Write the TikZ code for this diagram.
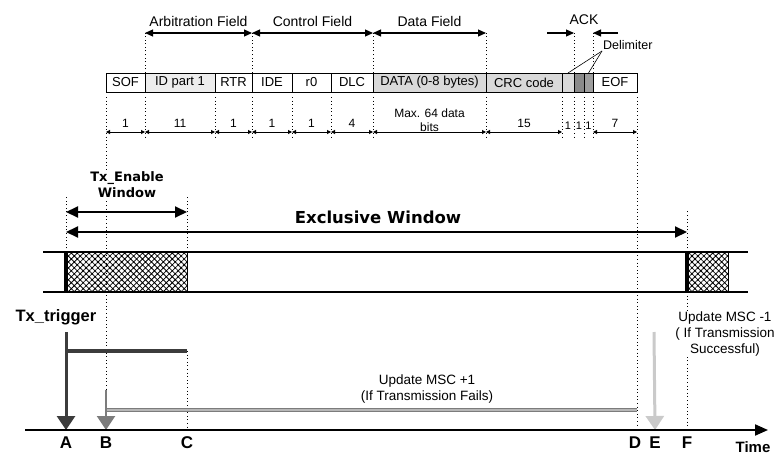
\documentclass[tikz,border=0pt]{standalone}
\usepackage{fontspec}
\setmainfont{Liberation Sans}
\newfontfamily\headfont{DejaVu Sans}
\usetikzlibrary{arrows.meta,positioning,patterns.meta,calc}
\definecolor{fieldgray}{HTML}{D9D9D9}
\definecolor{idgray}{HTML}{EDEDED}
\definecolor{ackdark}{HTML}{8A8A8A}
\definecolor{ackmid}{HTML}{9E9E9E}
\definecolor{trigdark}{HTML}{3C3C3C}
\definecolor{failgray}{HTML}{7C7C7C}
\definecolor{oklight}{HTML}{CACACA}
\tikzset{
  cell/.style={rectangle, draw, line width=0.9pt, inner sep=0pt, outer sep=0pt, minimum height=19pt, font=\fontsize{13}{15}\selectfont},
  fieldlbl/.style={font=\fontsize{14}{16}\selectfont},
  fieldarr/.style={{Triangle[length=8pt,width=7pt]}-{Triangle[length=8pt,width=7pt]}, line width=1.1pt},
  onearr/.style={-{Triangle[length=8pt,width=7pt]}, line width=1.1pt},
  bitarr/.style={{Triangle[length=4pt,width=4pt]}-{Triangle[length=4pt,width=4pt]}, line width=1pt},
  bitlbl/.style={font=\fontsize{12}{14}\selectfont, above=1pt},
  guide/.style={line width=0.9pt, dash pattern=on 1pt off 2.6pt},
  winarr/.style={{Triangle[length=12pt,width=11pt]}-{Triangle[length=12pt,width=11pt]}, line width=2pt},
  winlbl/.style={font=\headfont\bfseries\fontsize{13}{16}\selectfont, align=center},
  bus/.style={line width=1.6pt},
  hatchbox/.style={rectangle, draw, line width=0.8pt, inner sep=0pt, outer sep=0pt, minimum height=40pt, pattern={Hatch[angle=45,distance=4.2pt,line width=0.8pt]}},
  ticklbl/.style={font=\bfseries\fontsize{17}{19}\selectfont},
  msclbl/.style={font=\fontsize{13.5}{16}\selectfont, align=center},
  bighead/.style={-{Triangle[length=14pt,width=18pt]}}
}
\begin{document}
\begin{tikzpicture}[x=1pt, y=-1pt]
\useasboundingbox (0,0) rectangle (779,455);
\coordinate (fldrow) at (0,33);
\coordinate (bitrow) at (0,132);
\coordinate (guideend) at (0,137);

% frame fields
\node[cell, minimum width=39pt, anchor=west] (sof) at (106,82.5) {SOF};
\node[cell, minimum width=70pt, fill=idgray, right=0pt of sof] (idp) {ID part 1};
\node[cell, minimum width=37pt, right=0pt of idp] (rtr) {RTR};
\node[cell, minimum width=40pt, right=0pt of rtr] (ide) {IDE};
\node[cell, minimum width=39pt, right=0pt of ide] (rzero) {r0};
\node[cell, minimum width=42pt, right=0pt of rzero] (dlc) {DLC};
\node[cell, minimum width=113pt, fill=fieldgray, right=0pt of dlc] (data) {DATA (0-8 bytes)};
\node[cell, minimum width=76pt, fill=fieldgray, right=0pt of data] (crc) {CRC code};
\node[cell, minimum width=12pt, fill=fieldgray, right=0pt of crc] (crcdel) {};
\node[cell, minimum width=10pt, fill=ackdark, right=0pt of crcdel] (ackslot) {};
\node[cell, minimum width=9pt, fill=ackmid, right=0pt of ackslot] (ackdel) {};
\node[cell, minimum width=44pt, right=0pt of ackdel] (eof) {EOF};

% field spans
\foreach \c in {idp,ide,data,crc,ackslot,eof}
  \draw[guide] (\c.north west) -- (\c.north west |- fldrow);
\draw[fieldarr] (idp.west |- fldrow) -- node[fieldlbl, above=2pt]{Arbitration Field} (ide.west |- fldrow);
\draw[fieldarr] (ide.west |- fldrow) -- node[fieldlbl, above=2pt]{Control Field} (data.west |- fldrow);
\draw[fieldarr] (data.west |- fldrow) -- node[fieldlbl, above=2pt]{Data Field} (crc.west |- fldrow);
\coordinate (ackin) at (547,33);
\coordinate (ackout) at (618,33);
\draw[onearr] (ackin) -- (ackslot.west |- fldrow);
\draw[onearr] (ackout) -- (eof.west |- fldrow);
\node[fieldlbl] (acklbl) at (584,20) {ACK};
\node[font=\fontsize{12.5}{14}\selectfont, anchor=south west, inner sep=1pt] (delim) at (602,51) {Delimiter};
\draw[line width=0.6pt] (delim.south west) -- (crcdel.north);
\draw[line width=0.6pt] (delim.south west) -- (ackdel.north);

% bit counts
\foreach \c in {idp,rtr,ide,rzero,dlc,data,crc,crcdel,ackslot,ackdel,eof}
  \draw[guide] ([yshift=-5pt]\c.south west) -- (\c.south west |- guideend);
\draw[bitarr] (sof.west |- bitrow) -- node[bitlbl]{1} (sof.east |- bitrow);
\draw[bitarr] (idp.west |- bitrow) -- node[bitlbl]{11} (idp.east |- bitrow);
\draw[bitarr] (rtr.west |- bitrow) -- node[bitlbl]{1} (rtr.east |- bitrow);
\draw[bitarr] (ide.west |- bitrow) -- node[bitlbl]{1} (ide.east |- bitrow);
\draw[bitarr] (rzero.west |- bitrow) -- node[bitlbl]{1} (rzero.east |- bitrow);
\draw[bitarr] (dlc.west |- bitrow) -- node[bitlbl]{4} (dlc.east |- bitrow);
\draw[bitarr] (data.west |- bitrow) -- node[bitlbl, above=-3pt, align=center, font=\fontsize{12}{13.5}\selectfont]{Max. 64 data\\bits} (data.east |- bitrow);
\draw[bitarr] (crc.west |- bitrow) -- node[bitlbl]{15} (crc.east |- bitrow);
\draw[bitarr] (eof.west |- bitrow) -- node[bitlbl]{7} (eof.east |- bitrow);
\foreach \c in {crcdel,ackslot,ackdel}
  \node[bitlbl, font=\fontsize{11}{12}\selectfont, inner sep=1pt] at (\c.south |- bitrow) {1};

% long guides
\coordinate (bstop) at (106,390);
\coordinate (dend) at (637,425);
\draw[guide] ([yshift=-5pt]sof.south west) -- (bstop);
\draw[guide] ([yshift=-5pt]eof.south east) -- (dend);

% windows
\node[hatchbox, minimum width=121pt, anchor=west] (txwin) at (66,272) {};
\node[hatchbox, minimum width=41pt, anchor=west] (nextwin) at (687,272) {};
\draw[guide] (txwin.north west) -- ++(0,-55);
\draw[guide] (txwin.north east) -- ++(0,-55);
\draw[guide] (nextwin.north west) -- ++(0,-42);
\draw[guide] (nextwin.south west) -- ++(0,136);
\draw[bus] (43,252) -- (748,252);
\draw[bus] (43,292) -- (748,292);
\draw[line width=4pt] (txwin.north west) -- (txwin.south west);
\draw[line width=4pt] (nextwin.north west) -- (nextwin.south west);
\node[winlbl, fill=white, inner sep=1pt] (txlbl) at (127,185) {Tx\_Enable\\Window};
\draw[winarr] (txwin.west |- 0,212) -- (txwin.east |- 0,212);
\node[winlbl, font=\headfont\bfseries\fontsize{16.5}{18}\selectfont] (exlbl) at (378,217) {Exclusive Window};
\draw[winarr] (txwin.west |- 0,232) -- (nextwin.west |- 0,232);

% time axis
\coordinate (axisL) at (25,430);
\coordinate (axisR) at (768,430);
\node[ticklbl] (A) at (66,443) {A};
\node[ticklbl] (B) at (106,443) {B};
\node[ticklbl] (C) at (187,443) {C};
\node[ticklbl] (D) at (635,443) {D};
\node[ticklbl] (E) at (655,443) {E};
\node[ticklbl] (F) at (687,443) {F};
\node[ticklbl, font=\bfseries\fontsize{15}{17}\selectfont] (time) at (753,447) {Time};
\coordinate (cstop) at (187,351);
\draw[guide] (cstop) -- (C |- 0,428);

% MSC update events
\node[font=\bfseries\fontsize{16.5}{18}\selectfont] (trig) at (56,317) {Tx\_trigger};
\coordinate (trigtop) at (66,332);
\draw[trigdark, line width=4pt] (trigtop |- cstop) -- (cstop);
\draw[trigdark, line width=3pt, bighead] (trigtop) -- (A |- axisL);
\coordinate (failend) at (637,410);
\draw[draw=failgray, line width=1.2pt, double=failgray!55, double distance=1.2pt] (bstop |- failend) -- (failend);
\draw[failgray, line width=2.5pt, bighead] (bstop) -- (B |- axisL);
\node[msclbl] (faillbl) at (427,389) {Update MSC +1\\(If Transmission Fails)};
\coordinate (oktop) at (654,332);
\draw[oklight, line width=3pt, bighead] (oktop) -- (E |- axisL);
\node[msclbl, fill=white, inner sep=1pt] (oklbl) at (725,334) {Update MSC -1\\( If Transmission\\Successful)};
\draw[line width=2pt, -{Triangle[length=13pt,width=11pt]}] (axisL) -- (axisR);
\end{tikzpicture}
\end{document}
